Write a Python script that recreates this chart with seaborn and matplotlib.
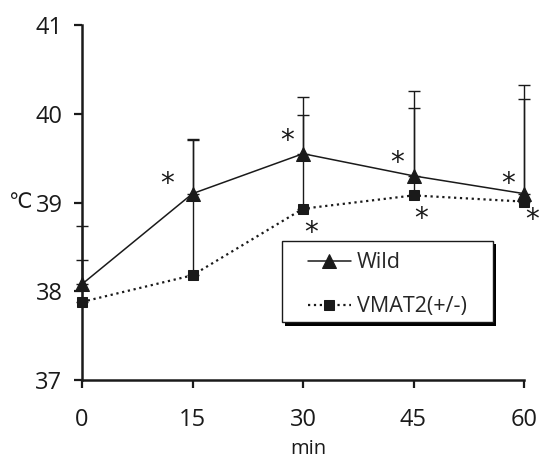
import matplotlib
matplotlib.use("Agg")
import matplotlib.pyplot as plt
import matplotlib.transforms as mtransforms
from matplotlib.patches import Rectangle
import seaborn as sns
import numpy as np
import pandas as pd

# Body temperature after treatment, mean and upper SD
minutes = [0, 15, 30, 45, 60]
wild_temp = [38.08, 39.10, 39.55, 39.30, 39.10]
wild_sd = [0.66, 0.61, 0.64, 0.96, 1.22]
vmat2_temp = [37.88, 38.18, 38.93, 39.08, 39.01]
vmat2_sd = [0.47, 1.52, 1.06, 0.98, 1.16]
series_names = ["Wild", "VMAT2(+/-)"]
x_ticks = [0, 15, 30, 45, 60]
y_ticks = [37, 38, 39, 40, 41]

# time points with a significant difference
wild_stars = [15, 30, 45, 60]
vmat2_stars = [30, 45, 60]

sns.set_style("ticks")
plt.rcParams["font.family"] = ["Open Sans", "DejaVu Sans"]

ink = "#1a1a1a"
fig = plt.figure(figsize=(5.40, 4.61), dpi=100)
ax = fig.add_axes([82 / 540, 81 / 461, 442 / 540, 355 / 461])

df_wild = pd.DataFrame({"min": minutes, "temp": wild_temp})
df_vmat = pd.DataFrame({"min": minutes, "temp": vmat2_temp})

# upper-only error bars
ax.errorbar(minutes, wild_temp, yerr=[np.zeros(len(wild_sd)), wild_sd],
            fmt="none", ecolor=ink, elinewidth=1.0, capsize=4.5, capthick=1.0,
            clip_on=False, zorder=2)
ax.errorbar(minutes, vmat2_temp, yerr=[np.zeros(len(vmat2_sd)), vmat2_sd],
            fmt="none", ecolor=ink, elinewidth=1.0, capsize=4.5, capthick=1.0,
            clip_on=False, zorder=2)

sns.lineplot(data=df_wild, x="min", y="temp", ax=ax, color=ink, lw=1.1,
             marker="^", markersize=10, markeredgecolor=ink, markerfacecolor=ink,
             label=series_names[0], clip_on=False, zorder=4)
sns.lineplot(data=df_vmat, x="min", y="temp", ax=ax, color=ink, lw=1.6,
             linestyle=":", marker="s", markersize=7.5, markeredgecolor=ink,
             markerfacecolor=ink, label=series_names[1], clip_on=False, zorder=3)

star_kw = dict(textcoords="offset points", ha="center", va="center",
               fontsize=20, color=ink, family="DejaVu Sans")
for m in wild_stars:
    i = minutes.index(m)
    dx = -25 if m == 15 else -16
    dy = 10 if m in (15, 60) else 13
    ax.annotate("*", xy=(m, wild_temp[i]), xytext=(dx * 0.72, dy * 0.72), **star_kw)
for m in vmat2_stars:
    i = minutes.index(m)
    dy = -24 if m != 60 else -18
    ax.annotate("*", xy=(m, vmat2_temp[i]), xytext=(8 * 0.72, dy * 0.72), **star_kw)

ax.set_xlim(0, 60)
ax.set_ylim(37, 41)
ax.set_xticks(x_ticks)
ax.set_yticks(y_ticks)
ax.set_xlabel("")
ax.set_ylabel("")
sns.despine(ax=ax)
for side in ("left", "bottom"):
    ax.spines[side].set_linewidth(1.8)
    ax.spines[side].set_color(ink)
ax.tick_params(axis="both", direction="out", length=6, width=1.6, color=ink,
               labelsize=17, labelcolor=ink)
ax.tick_params(axis="x", pad=14)
ax.tick_params(axis="y", pad=8)

# legend box with a drop shadow, entries centred inside
box_x, box_y, box_w, box_h = 0.452, 0.1625, 0.477, 0.2295
shadow_tr = mtransforms.offset_copy(ax.transAxes, fig=fig, x=3.5, y=-3.5, units="dots")
ax.add_patch(Rectangle((box_x, box_y), box_w, box_h, transform=shadow_tr,
                       facecolor="black", edgecolor="none", zorder=5, clip_on=False))
ax.add_patch(Rectangle((box_x, box_y), box_w, box_h, transform=ax.transAxes,
                       facecolor="white", edgecolor=ink, lw=1.0, zorder=6,
                       clip_on=False))
leg = ax.legend(loc="center",
                bbox_to_anchor=(box_x + box_w / 2, box_y + box_h / 2 - 0.009),
                borderaxespad=0, borderpad=0, fontsize=15.5, frameon=False,
                handlelength=2.0, handletextpad=0.3, labelspacing=1.05)
leg.set_zorder(7)

fig.text(20 / 540, 1 - 203 / 461, "℃", fontsize=15, ha="center", va="center",
         color=ink)
fig.text(308 / 540, 1 - 449 / 461, "min", fontsize=14.5, ha="center", va="center",
         color=ink)

fig.savefig("out.png", dpi=100)
